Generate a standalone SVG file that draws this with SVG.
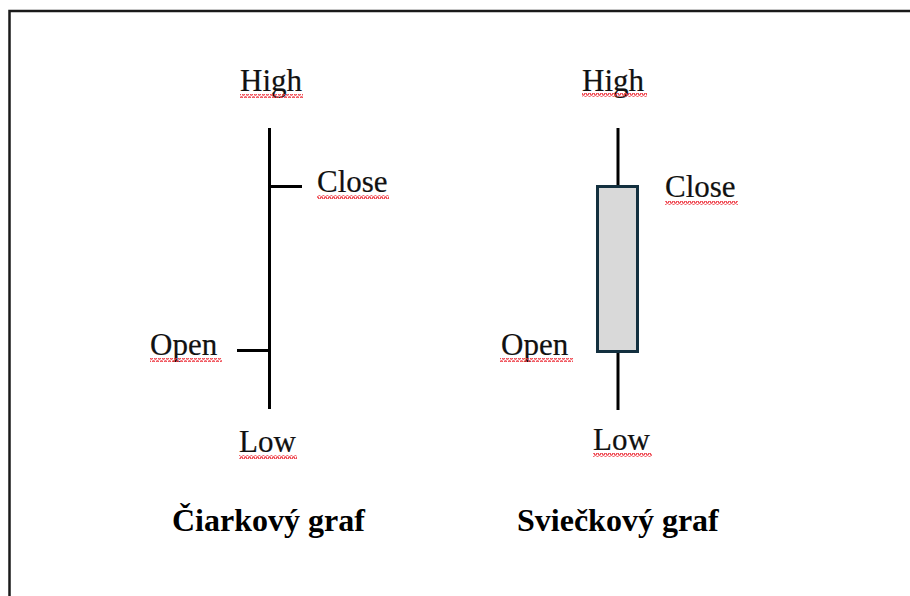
<svg xmlns="http://www.w3.org/2000/svg" width="910" height="596" viewBox="0 0 910 596">
  <defs>
    <pattern id="squiggle" x="0" y="0" width="4" height="4" patternUnits="userSpaceOnUse">
      <polyline points="0,3.2 1,0.8 2,0.8 3,3.2 4,3.2" fill="none" stroke="#ee3b45" stroke-width="1.2"/>
    </pattern>
    <style>
      .lbl { font-family: "Liberation Serif", "Times New Roman", serif; font-size: 31px; fill: #111; stroke: #111; stroke-width: 0.2px; }
      .ttl { font-family: "Liberation Serif", "Times New Roman", serif; font-size: 32px; font-weight: bold; fill: #000; }
      .ln { stroke: #000; stroke-width: 3; fill: none; }
      .sq { fill: url(#squiggle); }
    </style>
  </defs>
  <rect width="910" height="596" fill="#fff"/>
  <g id="frame">
    <path d="M9.5 596 V11 H910" fill="none" stroke="#1a1a1a" stroke-width="2.5"/>
  </g>

  <g id="line-chart">
    <g id="bar-connectors">
      <line class="ln" x1="269.5" y1="128" x2="269.5" y2="409"/>
      <line class="ln" x1="269.5" y1="186.5" x2="302" y2="186.5"/>
      <line class="ln" x1="237" y1="350.5" x2="269.5" y2="350.5"/>
    </g>
    <g id="lc-high"><text class="lbl" x="240" y="91">High</text><rect class="sq" x="240" y="94" width="63" height="4"/></g>
    <g id="lc-close"><text class="lbl" x="317" y="192">Close</text><rect class="sq" x="317" y="195" width="72" height="4"/></g>
    <g id="lc-open"><text class="lbl" x="150" y="355">Open</text><rect class="sq" x="150" y="358" width="72" height="4"/></g>
    <g id="lc-low"><text class="lbl" x="239" y="452">Low</text><rect class="sq" x="239" y="455" width="58" height="4"/></g>
    <g id="lc-title"><text class="ttl" x="172" y="531">Čiarkový graf</text></g>
  </g>

  <g id="candle-chart">
    <g id="candle">
      <line class="ln" x1="618" y1="128" x2="618" y2="187"/>
      <line class="ln" x1="618" y1="352" x2="618" y2="410"/>
      <rect x="597.5" y="186.5" width="40" height="165" fill="#d9d9d9" stroke="#13303f" stroke-width="3"/>
    </g>
    <g id="cc-high"><text class="lbl" x="582" y="91">High</text><rect class="sq" x="582" y="93" width="65" height="4"/></g>
    <g id="cc-close"><text class="lbl" x="665" y="197">Close</text><rect class="sq" x="665" y="201" width="73" height="4"/></g>
    <g id="cc-open"><text class="lbl" x="501" y="355">Open</text><rect class="sq" x="500" y="358" width="73" height="4"/></g>
    <g id="cc-low"><text class="lbl" x="593" y="450">Low</text><rect class="sq" x="593" y="453" width="59" height="4"/></g>
    <g id="cc-title"><text class="ttl" x="517" y="531">Sviečkový graf</text></g>
  </g>
</svg>
